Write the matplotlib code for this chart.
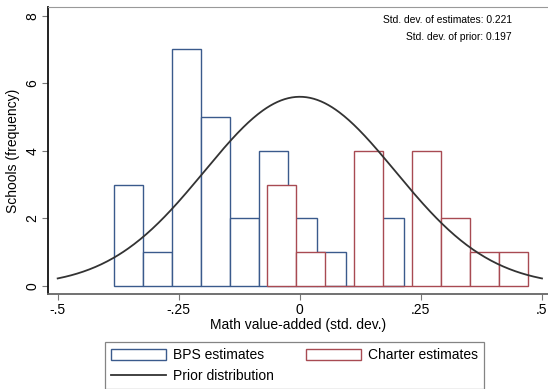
import numpy as np
import matplotlib
matplotlib.use('Agg')
import matplotlib.pyplot as plt
from matplotlib.patches import Patch
from matplotlib.lines import Line2D

plt.rcParams['font.family'] = ['Liberation Sans', 'DejaVu Sans']

# Histogram bins (std. dev. units) and counts
bin_width = 0.06
bps_start = -0.384
bps_counts = [3, 1, 7, 5, 2, 4, 2, 1, 0, 2]
charter_start = -0.068
charter_counts = [3, 1, 0, 4, 0, 4, 2, 1, 1]

# Prior distribution (normal curve, scaled to frequency)
prior_mean = 0.0
prior_sd = 0.197
prior_peak = 5.6

xticks = [-0.5, -0.25, 0, 0.25, 0.5]
xtick_labels = ['-.5', '-.25', '0', '.25', '.5']
yticks = [0, 2, 4, 6, 8]

blue = '#3a5a8c'
red = '#a84a52'
curve_col = '#333333'

fig = plt.figure(figsize=(5.48, 3.89), dpi=100)
ax = fig.add_axes([48 / 548, 1 - 294.3 / 389, 500 / 548, (294.3 - 6.5) / 389])

bps_left = bps_start + bin_width * np.arange(len(bps_counts))
charter_left = charter_start + bin_width * np.arange(len(charter_counts))

ax.bar(bps_left, bps_counts, width=bin_width, align='edge',
       facecolor='white', edgecolor=blue, linewidth=1.0, zorder=2)
ax.bar(charter_left, charter_counts, width=bin_width, align='edge',
       facecolor='white', edgecolor=red, linewidth=1.0, zorder=3)

xs = np.linspace(-0.5, 0.5, 400)
ys = prior_peak * np.exp(-0.5 * ((xs - prior_mean) / prior_sd) ** 2)
ax.plot(xs, ys, color=curve_col, linewidth=1.3, zorder=4)

ax.set_xlim(-0.520, 0.5124)
ax.set_ylim(-0.246, 8.272)
ax.set_xticks(xticks)
ax.set_xticklabels(xtick_labels, fontsize=10)
ax.set_yticks(yticks)
ax.set_yticklabels([str(v) for v in yticks], fontsize=10, rotation=90, va='center')
ax.tick_params(axis='both', length=4, width=0.8, color='#777777', pad=2)

ax.spines['right'].set_visible(False)
ax.spines['left'].set_color('#111111')
ax.spines['left'].set_linewidth(1.3)
ax.spines['bottom'].set_color('#666666')
ax.spines['bottom'].set_linewidth(1.3)
ax.spines['top'].set_color('#999999')
ax.spines['top'].set_linewidth(0.8)

ax.set_xlabel('Math value-added (std. dev.)', fontsize=10, labelpad=1)
ax.set_ylabel('Schools (frequency)', fontsize=10, labelpad=4)

ax.text(0.928, 0.953, 'Std. dev. of estimates: 0.221', transform=ax.transAxes,
        ha='right', va='center', fontsize=7.4)
ax.text(0.928, 0.894, 'Std. dev. of prior: 0.197', transform=ax.transAxes,
        ha='right', va='center', fontsize=7.4)

handles = [Patch(facecolor='white', edgecolor=blue, linewidth=1.0),
           Line2D([], [], color=curve_col, linewidth=1.3),
           Patch(facecolor='white', edgecolor=red, linewidth=1.0)]
labels = ['BPS estimates', 'Prior distribution', 'Charter estimates']
leg = fig.legend(handles, labels, loc='upper left',
                 bbox_to_anchor=(105 / 548, 1 - 342 / 389), borderaxespad=0,
                 ncol=2, fontsize=10, frameon=True, fancybox=False,
                 handlelength=3.95, handleheight=0.9, handletextpad=0.5,
                 columnspacing=2.3, borderpad=0.45, labelspacing=0.5)
leg.get_frame().set_edgecolor('#666666')
leg.get_frame().set_linewidth(0.9)

fig.savefig('out.png', dpi=100)
